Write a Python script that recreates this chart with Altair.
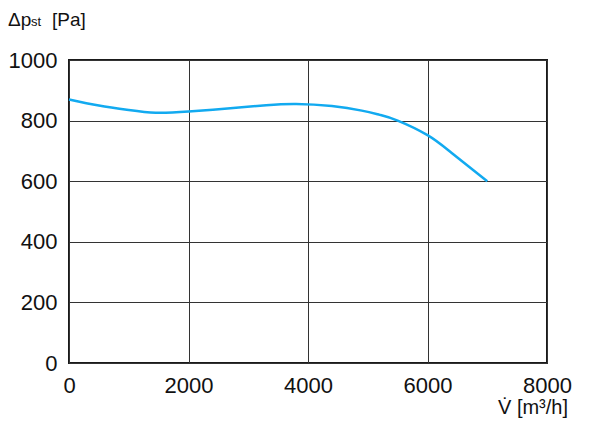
import altair as alt
import pandas as pd

flow = [0, 500, 1000, 1450, 2000, 2700, 3300, 3800, 4400, 4900, 5200, 5500, 6000, 6400, 7000]
pressure = [870, 850, 835, 826, 830, 841, 851, 855, 848, 833, 819, 800, 752, 694, 600]

x_ticks = [0, 2000, 4000, 6000, 8000]
y_ticks = [0, 200, 400, 600, 800, 1000]

df = pd.DataFrame({"flow": flow, "pressure": pressure})

FONT = "Liberation Sans"
W, H = 478, 303

line = alt.Chart(df).mark_line(color="#12aaf0", strokeWidth=2.5, interpolate="natural").encode(
    x=alt.X("flow:Q", scale=alt.Scale(domain=[0, 8000], nice=False),
            axis=alt.Axis(values=x_ticks, title=None, grid=True, ticks=False, format="d",
                          labelPadding=12, domain=False, labelFlush=False)),
    y=alt.Y("pressure:Q", scale=alt.Scale(domain=[0, 1000], nice=False),
            axis=alt.Axis(values=y_ticks, title=None, grid=True, ticks=False, format="d",
                          labelPadding=12, domain=False, labelFlush=False)),
)

def label(txt, x, y, size, align="left"):
    return alt.Chart(pd.DataFrame({"t": [txt]})).mark_text(
        font=FONT, fontSize=size, align=align, baseline="alphabetic", color="#111"
    ).encode(text="t:N", x=alt.value(x), y=alt.value(y))

t1 = label("Δp", -61, -34, 19)
t2 = label("st", -38, -34, 13)
t3 = label("[Pa]", -17, -34, 19)
t4 = label("V̇ [m³/h]", 499, 354, 20, align="right")

chart = alt.layer(line, t1, t2, t3, t4).properties(
    width=W, height=H,
    autosize=alt.AutoSizeParams(type="none"),
    padding={"left": 69, "top": 60, "right": 53, "bottom": 61},
    background="white",
).configure_view(stroke="#1a1a1a", strokeWidth=2).configure_axis(
    labelFont=FONT, labelFontSize=22, labelColor="#111",
    gridColor="#333", gridWidth=1, gridOpacity=1,
)

chart.save("out.html", embed_options={"renderer": "svg", "actions": False})
